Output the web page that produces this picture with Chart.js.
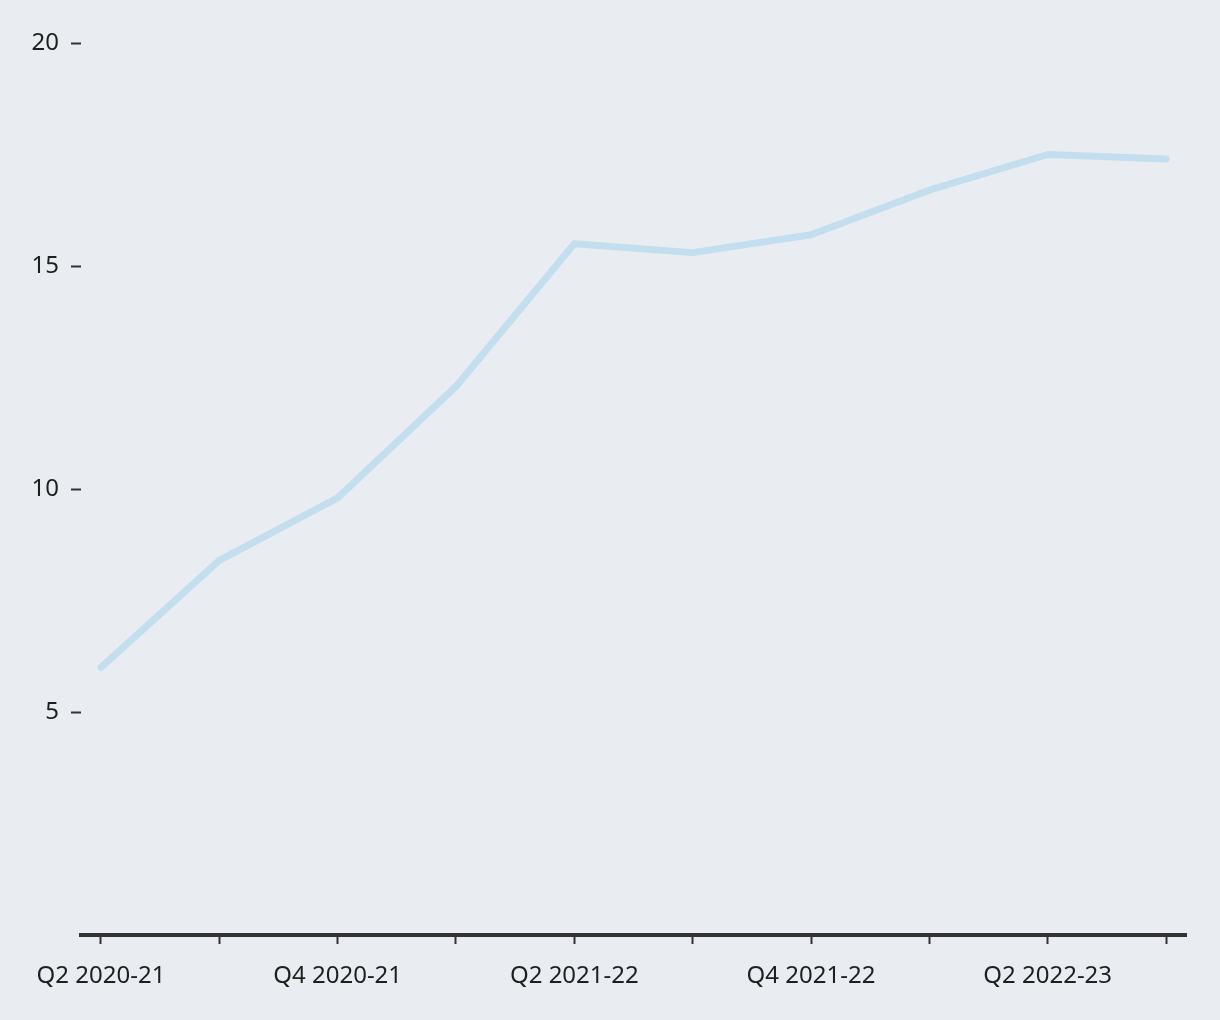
<!doctype html>
<html>
<head>
    <meta charset="UTF-8">
    <title>Quarterly line</title>
    <style>
        html, body { margin: 0; padding: 0; background: #e9ecf0; }
        #wrap { width: 1220px; height: 1020px; }
    </style>
</head>
<body>
<div id="wrap"><canvas id="myCanvas"></canvas></div>
<script src="https://cdn.jsdelivr.net/npm/chart.js@4.4.1/dist/chart.umd.min.js"></script>
<script>
    // quarters along the bottom, only every other one gets a label
    const categories = ['Q2 2020-21', 'Q3 2020-21', 'Q4 2020-21', 'Q1 2021-22', 'Q2 2021-22',
                        'Q3 2021-22', 'Q4 2021-22', 'Q1 2022-23', 'Q2 2022-23', 'Q3 2022-23'];
    const values = [6.0, 8.4, 9.8, 12.3, 15.5, 15.3, 15.7, 16.7, 17.5, 17.4];
    const yTicks = [5, 10, 15, 20];

    const font = { family: '"Noto Sans", sans-serif', size: 24, weight: 400 };
    const ink = '#1f1f1f';

    var ctx = document.getElementById('myCanvas').getContext('2d');
    var myChart = new Chart(ctx, {
        type: 'line',
        data: {
            datasets: [{
                data: categories.map((c, i) => ({ x: i, y: values[i] })),
                borderColor: '#c3dfef',
                borderWidth: 7,
                borderCapStyle: 'round',
                borderJoinStyle: 'round',
                pointRadius: 0,
                tension: 0,
                fill: false
            }]
        },
        options: {
            responsive: true,
            maintainAspectRatio: false,
            animation: false,
            layout: { padding: { top: 43, right: 34, bottom: 0, left: 0 } },
            plugins: { legend: { display: false }, tooltip: { enabled: false } },
            scales: {
                x: {
                    type: 'linear',
                    min: -0.169,
                    max: 9.169,
                    afterBuildTicks: s => { s.ticks = categories.map((c, i) => ({ value: i })); },
                    afterFit: s => { s.height = 85; },
                    border: { display: true, color: '#333', width: 4 },
                    grid: { drawOnChartArea: false, drawTicks: true, tickLength: 9, tickWidth: 2, tickColor: '#333' },
                    ticks: {
                        autoSkip: false,
                        maxRotation: 0,
                        padding: 18,
                        color: ink,
                        font: font,
                        callback: v => (v % 2 === 0 ? categories[v] : '')
                    }
                },
                y: {
                    min: 0,
                    max: 20,
                    afterBuildTicks: s => { s.ticks = yTicks.map(v => ({ value: v })); },
                    afterFit: s => { s.width = 81; },
                    border: { display: false },
                    grid: { drawOnChartArea: false, drawTicks: true, tickLength: 10, tickWidth: 2, tickColor: '#333' },
                    ticks: { padding: 12, color: ink, font: font }
                }
            }
        }
    });
</script>
</body>
</html>
